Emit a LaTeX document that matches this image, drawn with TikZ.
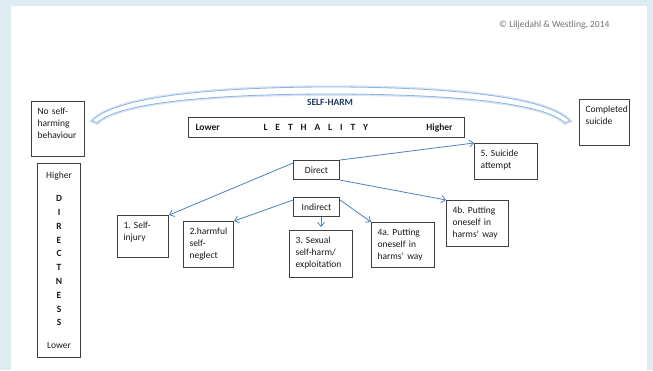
\documentclass[tikz,border=0pt]{standalone}
\usepackage{fontspec}
\setmainfont{Carlito}
\usetikzlibrary{arrows.meta}

\definecolor{pageblue}{HTML}{DDEBF3}
\definecolor{arrowblue}{HTML}{4F81BD}
\definecolor{bandblue}{HTML}{8DB3E2}
\definecolor{titlenavy}{HTML}{1F3864}
\definecolor{boxgray}{HTML}{404040}
\definecolor{inkgray}{HTML}{1A1A1A}
\hyphenpenalty=10000
\frenchspacing

\tikzstyle{boxdecorate}=[draw=boxgray,line width=1.1pt,anchor=north west,text=inkgray,font=\fontsize{9.5}{12}\selectfont]
\tikzstyle{textbox}=[boxdecorate,align=left,inner xsep=6pt,inner ysep=4pt,text height=8.5pt]
\tikzstyle{typebox}=[boxdecorate,align=center,minimum width=46pt,minimum height=19pt,inner sep=0pt]
\tikzstyle{arrowdecorate}=[-{Straight Barb[length=4pt,width=7pt]},draw=arrowblue,line width=0.8pt]
\tikzstyle{band}=[draw=bandblue,line width=0.8pt,fill=white,preaction={draw=bandblue!35,line width=3.5pt}]
\newcommand{\ls}{\hspace{7.9pt}}

\begin{document}
\begin{tikzpicture}[x=1pt,y=-1pt]
    %% page
    \fill[pageblue] (0,0) rectangle (653,370);
    \fill[white] (11,6) rectangle (647,370);
    \node[anchor=east,text=black!55,font=\fontsize{9.5}{11}\selectfont] (copyright) at (613,25) {\textcopyright{} Liljedahl \& Westling, 2014};

    %% self-harm band
    \draw[band] (92,121) .. controls (118,93) and (240,87) .. (331,87) .. controls (422,87) and (544,93) .. (570,121)
      -- (565,123) .. controls (540,99) and (420,94) .. (331,94) .. controls (242,94) and (122,99) .. (97,123) -- cycle;
    \node[text=titlenavy,font=\bfseries\fontsize{9.5}{11}\selectfont] (selfharm) at (330,102) {SELF-HARM};

    %% scales
    \node[boxdecorate,inner sep=0pt,minimum height=20pt] (lethality) at (188,117)
      {\makebox[276pt][l]{\hspace*{7pt}\makebox[68pt][l]{\textbf{Lower}}\textbf{L\ls E\ls T\ls H\ls A\ls L\ls I\ls T\ls Y}\hfill\textbf{Higher}\hspace*{12pt}}};
    \node[boxdecorate,align=center,inner sep=0pt,minimum width=43pt,minimum height=194pt,font=\fontsize{9.5}{13.8}\selectfont] (directness) at (37,163)
      {Higher\\[9pt] \textbf{D}\\ \textbf{I}\\ \textbf{R}\\ \textbf{E}\\ \textbf{C}\\ \textbf{T}\\ \textbf{N}\\ \textbf{E}\\ \textbf{S}\\ \textbf{S}\\[9pt] Lower};

    %% boxes
    \foreach \name/\x/\y/\w/\h/\txt in {
      nobehaviour/31/101/53/55/{No self-\\harming\\behaviour},
      completed/579/99/50/46/{Completed\\suicide},
      selfinjury/117/215/51/42/{1. Self-\\injury},
      neglect/183/221/50/46/{2.harmful\\self-\\neglect},
      sexual/289/230/63/47/{3. Sexual\\self-harm/\\exploitation},
      harmsa/371/222/63/45/{4a. Putting\\oneself in\\harms' way},
      harmsb/446/200/62/46/{4b. Putting\\oneself in\\harms' way},
      attempt/474/143/63/36/{5. Suicide\\attempt}}
    {
      \pgfmathsetmacro\tw{\w-12}
      \pgfmathsetmacro\td{\h-16.5}
      \node[textbox,text width=\tw pt,text depth=\td pt] (\name) at (\x,\y) {\txt};
    }
    \node[typebox] (direct) at (293,160) {Direct};
    \node[typebox] (indirect) at (293,197) {Indirect};

    %% arrows
    \foreach \startnode/\endnode in {
      ([yshift=-3pt]direct.north west)/(selfinjury.north east),
      (direct.north east)/(attempt.north west),
      (direct.south east)/(harmsb.north west),
      ([yshift=-3pt]indirect.north west)/(neglect.north east),
      (indirect.south -| sexual.north)/([yshift=3pt]sexual.north),
      ([yshift=-3pt]indirect.north east)/(harmsa.north west)}
    {
      \draw[arrowdecorate] \startnode -- \endnode;
    }
\end{tikzpicture}
\end{document}
